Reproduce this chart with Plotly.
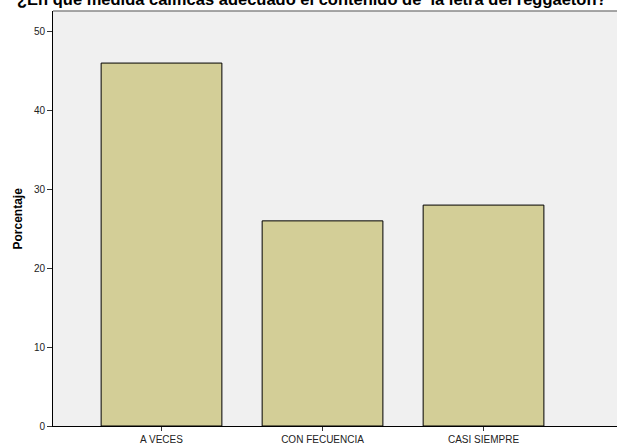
import plotly.graph_objects as go

categories = ["A VECES", "CON FECUENCIA", "CASI SIEMPRE"]
porcentaje = [46, 26, 28]
y_ticks = [0, 10, 20, 30, 40, 50]
title_text = "¿En qué medida calificas adecuado el contenido de  la letra del reggaeton?"

fig = go.Figure(go.Bar(
    x=categories, y=porcentaje, width=0.75,
    marker=dict(color="#d3ce97", line=dict(color="black", width=1)),
))

fig.update_layout(
    width=617, height=446,
    margin=dict(l=53, r=0, t=11, b=20, pad=0, autoexpand=False),
    paper_bgcolor="white", plot_bgcolor="#f0f0f0",
    showlegend=False,
    font=dict(family="Arial, Liberation Sans", size=10, color="#222"),
    annotations=[
        dict(text="<b>" + title_text + "</b>", xref="paper", yref="paper",
             x=0.459, y=1, yanchor="bottom", xanchor="center", yshift=1,
             showarrow=False, font=dict(size=16.5, color="black")),
        dict(text="<b>Porcentaje</b>", xref="paper", yref="paper", x=0, y=0.5,
             xanchor="center", yanchor="middle", xshift=-36, textangle=-90,
             showarrow=False, font=dict(size=12, color="black")),
    ],
    shapes=[dict(type="line", xref="paper", yref="paper", x0=0, x1=1, y0=1, y1=1,
                 line=dict(color="#888", width=1.5))],
)
fig.update_xaxes(range=[-0.674, 2.829], showline=True, linecolor="black", linewidth=1,
                 ticks="outside", ticklen=4, tickcolor="#333", showgrid=False,
                 tickfont=dict(size=10, color="#222"), ticklabelstandoff=0, automargin=False)
fig.update_yaxes(range=[0, 52.6], tickvals=y_ticks, showline=True, linecolor="black",
                 linewidth=1, ticks="outside", ticklen=5, tickcolor="#333", showgrid=False,
                 zeroline=False, tickfont=dict(size=10, color="#222"), automargin=False)

fig.write_html("out.html", config={"displayModeBar": False},
               post_script="document.body.style.margin='0';document.body.style.overflow='hidden';")
